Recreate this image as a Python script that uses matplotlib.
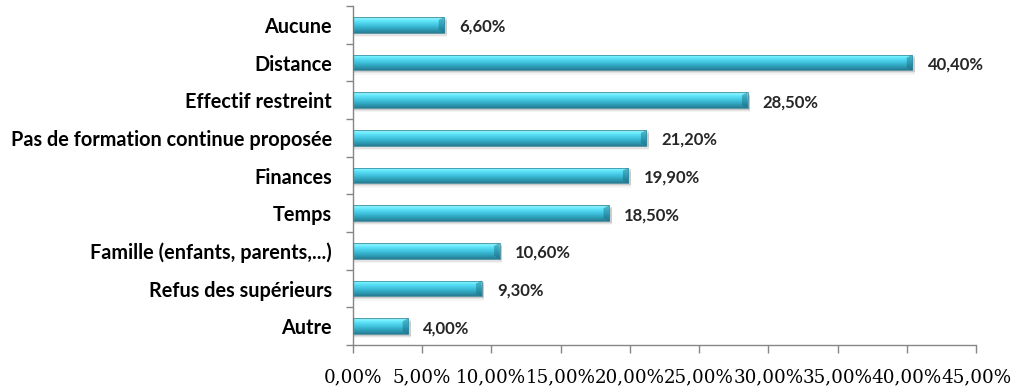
import numpy as np
import matplotlib
matplotlib.use("Agg")
import matplotlib.pyplot as plt
from matplotlib.colors import LinearSegmentedColormap
from matplotlib.patches import Rectangle, Polygon

categories = ["Aucune", "Distance", "Effectif restreint",
              "Pas de formation continue proposée", "Finances", "Temps",
              "Famille (enfants, parents,...)", "Refus des supérieurs", "Autre"]
values = [6.6, 40.4, 28.5, 21.2, 19.9, 18.5, 10.6, 9.3, 4.0]
xticks = [0, 5, 10, 15, 20, 25, 30, 35, 40, 45]


def fr_pct(v):
    return f"{v:.2f}%".replace(".", ",")


fig = plt.figure(figsize=(10.11, 3.87), dpi=100)
ax = fig.add_axes([0.349, 0.1085, 0.6164, 0.876])

n = len(categories)
ypos = np.arange(n)[::-1]
h = 0.42

bar_cmap = LinearSegmentedColormap.from_list(
    "bar", [(0.0, "#267c93"), (0.25, "#2fa3bd"), (0.5, "#42c6e0"),
            (0.72, "#5adff7"), (0.86, "#75f2ff"), (1.0, "#a8e3ec")])
grad = np.linspace(0, 1, 64).reshape(-1, 1)

ax.set_xlim(0, 45)
ax.set_ylim(-0.5, n - 0.5)

for y, v in zip(ypos, values):
    # soft shadow below the bar
    for k, a in enumerate([0.10, 0.07, 0.04]):
        ax.add_patch(Rectangle((0.1, y - h / 2 - 0.04 - 0.035 * k), v + 0.1,
                               h, facecolor="#000000", alpha=a,
                               edgecolor="none", zorder=1))
    bar = ax.barh(y, v, height=h, color="none", edgecolor="#2f8298",
                  linewidth=0.5, zorder=3)[0]
    im = ax.imshow(grad, aspect="auto", cmap=bar_cmap, origin="lower",
                   extent=(0, v, y - h / 2, y + h / 2), zorder=2,
                   interpolation="bilinear")
    im.set_clip_path(bar)
    # bevelled end cap
    cap = 0.4
    ax.add_patch(Polygon([(v - cap, y - h / 2 + 0.08), (v, y - h / 2),
                          (v, y + h / 2), (v - cap, y + h / 2 - 0.08)],
                         closed=True, facecolor="#1b6a7e", alpha=0.45,
                         edgecolor="none", zorder=2.5))
    ax.text(v + 1.1, y - 0.05, fr_pct(v), va="center", ha="left",
            fontsize=12, fontweight="bold", color="#262626", family="Lato")

ax.set_yticks(ypos)
ax.set_yticklabels(categories, fontsize=14.3, fontweight="bold",
                   family="Lato", color="#000000")
ax.tick_params(axis="y", which="major", length=0, pad=15)
ax.set_yticks(np.arange(-0.5, n, 1.0), minor=True)
ax.tick_params(axis="y", which="minor", length=5, width=1, color="#868686")

ax.set_xticks(xticks)
ax.set_xticklabels([fr_pct(t) for t in xticks], fontsize=13.2,
                   family="DejaVu Serif", color="#000000")
ax.tick_params(axis="x", length=6, width=1, color="#868686", pad=11)

for side in ("top", "right"):
    ax.spines[side].set_visible(False)
for side in ("left", "bottom"):
    ax.spines[side].set_color("#868686")
    ax.spines[side].set_linewidth(1)

fig.savefig("out.png", dpi=100)
